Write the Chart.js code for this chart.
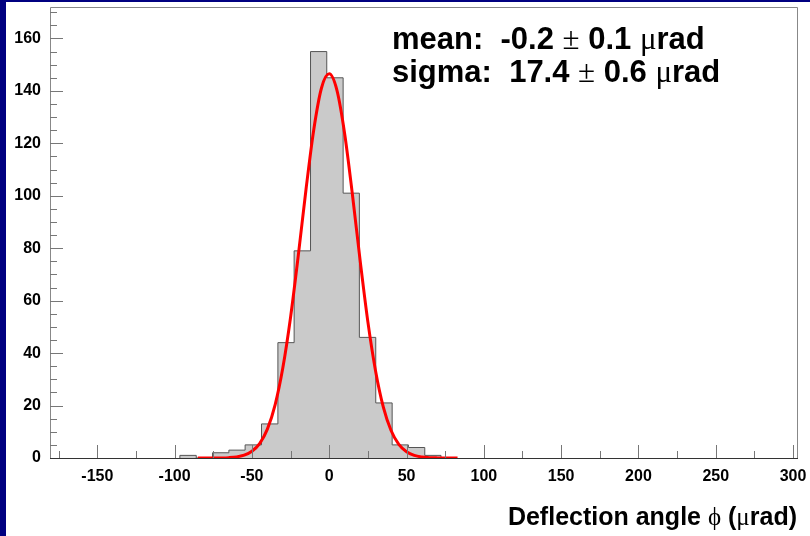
<!DOCTYPE html>
<html>
<head>
<meta charset="utf-8">
<script src="https://cdn.jsdelivr.net/npm/chart.js@4.4.1/dist/chart.umd.min.js"></script>
<style>
html, body { margin: 0; padding: 0; background: #fff; }
#wrap { width: 810px; height: 536px; position: relative; }
</style>
</head>
<body>
<div id="wrap"><canvas id="chart" width="810" height="536"></canvas></div>
<script>
// histogram bins (urad)
const binEdges = [-96.6, -86.0, -75.5, -64.9, -54.4, -43.8, -33.2, -22.7, -12.1, -1.6, 9.0, 19.5, 30.1, 40.7, 51.2, 61.8, 72.3];
const binCounts = [1, 0, 2, 3, 5, 13, 44, 79, 155, 145, 101, 46, 21, 5, 4, 1];

// gaussian fit curve, sampled from the red line
const fitX = [-85, -80, -75, -70, -65, -60, -55, -50, -45, -40, -35, -30, -25, -20, -15, -10, -5, 0, 5, 10, 15, 20, 25, 30, 35, 40, 45, 50, 55, 60, 65, 70, 75, 80, 83];
const fitY = [0, 0, 0.01, 0.04, 0.14, 0.42, 1.1, 2.6, 5.5, 11.0, 20.3, 34.4, 53.7, 77.3, 102.5, 125.2, 141.1, 146.5, 140.2, 123.6, 100.5, 75.3, 51.9, 33.1, 19.4, 10.5, 5.2, 2.4, 1.0, 0.39, 0.13, 0.04, 0.01, 0, 0];

const xTicks = [-150, -100, -50, 0, 50, 100, 150, 200, 250, 300];
const yTicks = [0, 20, 40, 60, 80, 100, 120, 140, 160];

const fitText = ["mean:  -0.2 ", "\u00b1", " 0.1 ", "\u03bc", "rad"];
const sigmaText = ["sigma:  17.4 ", "\u00b1", " 0.6 ", "\u03bc", "rad"];
const axisTitle = ["Deflection angle ", "\u03d5", " (", "\u03bc", "rad)"];

const histPoints = [{ x: binEdges[0], y: 0 }];
binCounts.forEach((c, i) => histPoints.push({ x: binEdges[i], y: c }));
histPoints.push({ x: binEdges[binEdges.length - 1], y: 0 });

const fitPoints = fitX.map((x, i) => ({ x: x, y: fitY[i] }));

// text runs: even index = helvetica bold, odd index = symbol-ish font
function drawRuns(ctx, runs, x, y, size, alignRight) {
    const fonts = runs.map((t, i) => i % 2 === 0 ? `bold ${size}px "Liberation Sans", Arial, sans-serif` : `${size}px "Liberation Serif", serif`);
    let total = 0;
    runs.forEach((t, i) => { ctx.font = fonts[i]; total += ctx.measureText(t).width; });
    let cx = alignRight ? x - total : x;
    ctx.textBaseline = "alphabetic";
    ctx.textAlign = "left";
    ctx.fillStyle = "#000";
    runs.forEach((t, i) => {
        ctx.font = fonts[i];
        ctx.fillText(t, cx, y);
        cx += ctx.measureText(t).width;
    });
}

const framePlugin = {
    id: "frame",
    beforeDraw(chart) {
        const ctx = chart.ctx;
        ctx.save();
        ctx.fillStyle = "#fff";
        ctx.fillRect(0, 0, chart.width, chart.height);
        ctx.fillStyle = "#000080";
        ctx.fillRect(0, 0, 6, chart.height);
        ctx.fillRect(0, 0, chart.width, 2);
        ctx.restore();
    },
    afterDatasetsDraw(chart) {
        const ctx = chart.ctx;
        const a = chart.chartArea;
        const xs = chart.scales.x, ys = chart.scales.y;
        ctx.save();
        ctx.lineWidth = 1;
        ctx.strokeStyle = "#888";
        ctx.beginPath();
        ctx.moveTo(a.left + 0.5, a.bottom);
        ctx.lineTo(a.left + 0.5, a.top + 0.5);
        ctx.lineTo(a.right - 0.5, a.top + 0.5);
        ctx.lineTo(a.right - 0.5, a.bottom);
        ctx.stroke();
        // ticks
        ctx.strokeStyle = "#777";
        ctx.beginPath();
        for (let v = 0; v <= ys.max; v += 5) {
            const py = Math.round(ys.getPixelForValue(v)) + 0.5;
            const len = v % 20 === 0 ? 13 : 7;
            ctx.moveTo(a.left, py);
            ctx.lineTo(a.left + len, py);
        }
        for (let v = -175; v <= xs.max; v += 25) {
            const px = Math.round(xs.getPixelForValue(v)) + 0.5;
            const len = v % 50 === 0 ? 13 : 7;
            ctx.moveTo(px, a.bottom);
            ctx.lineTo(px, a.bottom - len);
        }
        ctx.stroke();
        ctx.strokeStyle = "#333";
        ctx.beginPath();
        ctx.moveTo(a.left, a.bottom + 0.5);
        ctx.lineTo(a.right, a.bottom + 0.5);
        ctx.stroke();
        ctx.restore();
    },
    afterDraw(chart) {
        const ctx = chart.ctx;
        ctx.save();
        drawRuns(ctx, fitText, 392, 49, 31, false);
        drawRuns(ctx, sigmaText, 392, 82, 31, false);
        drawRuns(ctx, axisTitle, 797, 525, 25, true);
        ctx.restore();
    }
};

const tickFont = { family: '"Liberation Sans", Arial, sans-serif', size: 16, weight: "bold" };

function noPad(scale) {
    scale.paddingTop = 0;
    scale.paddingBottom = 0;
    scale.paddingLeft = 0;
    scale.paddingRight = 0;
}

new Chart(document.getElementById("chart"), {
    type: "line",
    data: {
        datasets: [
            {
                label: "fit",
                data: fitPoints,
                borderColor: "#ff0000",
                borderWidth: 3,
                pointRadius: 0,
                fill: false,
                cubicInterpolationMode: "monotone",
                order: 0
            },
            {
                label: "hist",
                data: histPoints,
                stepped: true,
                borderColor: "#555",
                borderWidth: 1,
                backgroundColor: "#cacaca",
                pointRadius: 0,
                fill: "origin",
                order: 1
            }
        ]
    },
    options: {
        responsive: false,
        animation: false,
        events: [],
        layout: { padding: { left: 0, top: 7, right: 12, bottom: 0 } },
        plugins: { legend: { display: false }, tooltip: { enabled: false } },
        scales: {
            x: {
                type: "linear",
                min: -180.6,
                max: 303.2,
                grid: { display: false, drawTicks: false },
                border: { display: false },
                ticks: { color: "#000", font: tickFont, padding: 9, maxRotation: 0 },
                afterBuildTicks: scale => { scale.ticks = xTicks.map(v => ({ value: v })); },
                afterFit: scale => { scale.height = 78; noPad(scale); }
            },
            y: {
                type: "linear",
                min: 0,
                max: 172,
                grid: { display: false, drawTicks: false },
                border: { display: false },
                ticks: { color: "#000", font: tickFont, padding: 9 },
                afterBuildTicks: scale => { scale.ticks = yTicks.map(v => ({ value: v })); },
                afterFit: scale => { scale.width = 50; noPad(scale); }
            }
        }
    },
    plugins: [framePlugin]
});
</script>
</body>
</html>
